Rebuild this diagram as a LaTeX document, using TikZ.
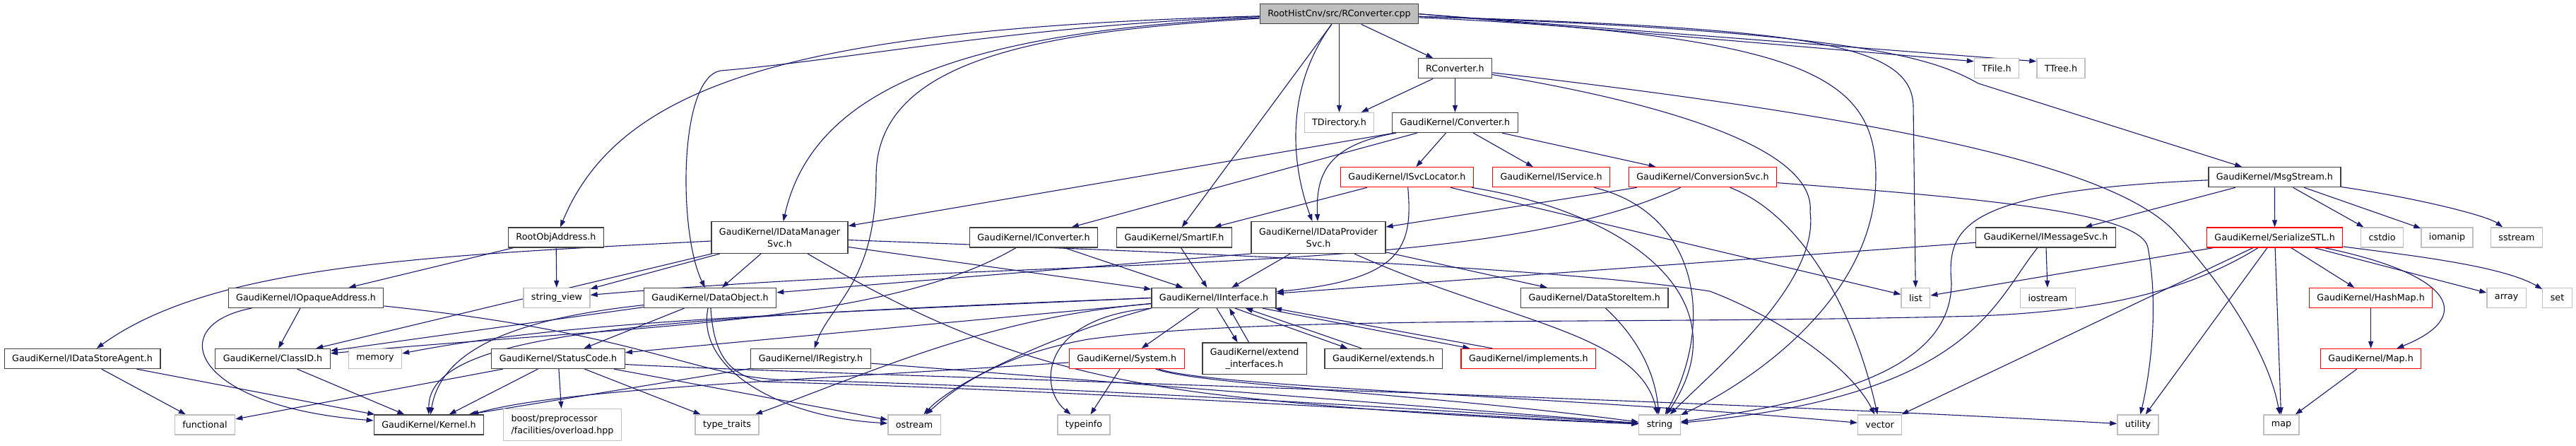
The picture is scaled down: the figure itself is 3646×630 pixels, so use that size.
\documentclass[tikz,border=0pt]{standalone}
\usepackage{fontspec}
\setmainfont{DejaVu Sans}
\usetikzlibrary{arrows.meta,backgrounds}
\definecolor{edgeblue}{HTML}{191970}
\definecolor{boxgray}{HTML}{BFBFBF}
\definecolor{boxline}{HTML}{404040}
\definecolor{boxred}{HTML}{FF0000}

\begin{document}
\begin{tikzpicture}[x=1pt,y=-1pt,
    hdr/.style={draw=boxline,line width=1.3pt,fill=white,minimum height=28pt,
      inner xsep=11pt,inner ysep=2pt,align=center,font=\fontsize{12.7}{17}\selectfont},
    sys/.style={hdr,draw=boxgray},
    cut/.style={hdr,draw=boxred},
    top/.style={hdr,fill=boxgray},
    dep/.style={draw=edgeblue,line width=1.1pt,-{Triangle[length=10pt,width=7pt]}}]
  \useasboundingbox (0,0) rectangle (3646,630);

  % row 0 - 2
  \node[top] (root) at (1895.5,19.7) {RootHistCnv/src/RConverter.cpp};
  \node[hdr] (rconv) at (2059.4,96.8) {RConverter.h};
  \node[sys] (tfile) at (2826,96.8) {TFile.h};
  \node[sys] (ttree) at (2917,96.8) {TTree.h};
  \node[sys] (tdir) at (1895.5,173.5) {TDirectory.h};
  \node[hdr] (conv) at (2059.4,173.5) {GaudiKernel/Converter.h};
  % row 3
  \node[cut] (isvcloc) at (1991.4,250.7) {GaudiKernel/ISvcLocator.h};
  \node[cut] (iservice) at (2195.6,250.7) {GaudiKernel/IService.h};
  \node[cut] (convsvc) at (2410,250.7) {GaudiKernel/ConversionSvc.h};
  \node[hdr] (msgstream) at (3219.4,250.7) {GaudiKernel/MsgStream.h};
  % row 4
  \node[hdr] (rootobj) at (787,336) {RootObjAddress.h};
  \node[hdr,minimum height=44.6pt] (idatamgr) at (1103.5,336) {GaudiKernel/IDataManager\\Svc.h};
  \node[hdr] (iconv) at (1463,336) {GaudiKernel/IConverter.h};
  \node[hdr] (smartif) at (1662,336) {GaudiKernel/SmartIF.h};
  \node[hdr,minimum height=44.6pt] (idataprov) at (1866,336) {GaudiKernel/IDataProvider\\Svc.h};
  \node[hdr] (imsgsvc) at (2895.5,336) {GaudiKernel/IMessageSvc.h};
  \node[cut] (serstl) at (3219.6,336) {GaudiKernel/SerializeSTL.h};
  \node[sys] (cstdio) at (3371.6,336) {cstdio};
  \node[sys] (iomanip) at (3463.5,336) {iomanip};
  \node[sys] (sstream) at (3562,336) {sstream};
  % row 5
  \node[hdr] (iopaque) at (433,421.5) {GaudiKernel/IOpaqueAddress.h};
  \node[sys] (strview) at (788,421.5) {string\_view};
  \node[hdr] (dataobj) at (1005,421.5) {GaudiKernel/DataObject.h};
  \node[hdr] (iiface) at (1718,421.5) {GaudiKernel/IInterface.h};
  \node[hdr] (dsitem) at (2256.7,421.5) {GaudiKernel/DataStoreItem.h};
  \node[sys] (list) at (2711.4,421.5) {list};
  \node[sys] (iostream) at (2898.4,421.5) {iostream};
  \node[cut] (hashmap) at (3355.6,421.5) {GaudiKernel/HashMap.h};
  \node[sys] (array) at (3547.6,421.5) {array};
  \node[sys] (set) at (3619.5,421.5) {set};
  % row 6
  \node[hdr] (idsa) at (116.6,507.5) {GaudiKernel/IDataStoreAgent.h};
  \node[hdr] (classid) at (386,507.5) {GaudiKernel/ClassID.h};
  \node[sys] (memory) at (531,507.5) {memory};
  \node[hdr] (statuscode) at (790,507.5) {GaudiKernel/StatusCode.h};
  \node[hdr] (ireg) at (1147.5,507.5) {GaudiKernel/IRegistry.h};
  \node[cut] (system) at (1594.7,507.5) {GaudiKernel/System.h};
  \node[hdr,minimum height=44.6pt] (extint) at (1775.6,507.3) {GaudiKernel/extend\\\_interfaces.h};
  \node[hdr] (extends) at (1958.2,507.5) {GaudiKernel/extends.h};
  \node[cut] (implements) at (2163.4,507.5) {GaudiKernel/implements.h};
  \node[cut] (mapfile) at (3355.6,507.5) {GaudiKernel/Map.h};
  % row 7
  \node[sys] (functional) at (290,601) {functional};
  \node[hdr] (kernel) at (607,601) {GaudiKernel/Kernel.h};
  \node[sys,align=left,minimum height=45pt] (boost) at (796,601) {boost/preprocessor\\/facilities/overload.hpp};
  \node[sys] (ttraits) at (1029,601) {type\_traits};
  \node[sys] (ostream) at (1294,601) {ostream};
  \node[sys] (typeinfo) at (1534,601) {typeinfo};
  \node[sys] (string) at (2349,601) {string};
  \node[sys] (vector) at (2660.6,601) {vector};
  \node[sys] (utility) at (3026,601) {utility};
  \node[sys] (map) at (3229,601) {map};

  \begin{scope}[on background layer]
  % RConverter.cpp
  \draw[dep] (root) .. controls (1150,40) and (880,110) .. (rootobj);
  \draw[dep] (root) .. controls (1350,45) and (1150,130) .. (idatamgr);
  \draw[dep] (root) .. controls (1450,35) and (1200,85) .. (1020,100)
    .. controls (960,110) and (960,330) .. (dataobj);
  \draw[dep] (root) .. controls (1450,45) and (1240,90) .. (1240,250)
    .. controls (1240,400) and (1175,430) .. (ireg);
  \draw[dep] (root) -- (smartif);
  \draw[dep] (root) .. controls (1815,130) and (1830,240) .. (idataprov);
  \draw[dep] (root) -- (tdir);
  \draw[dep] (root) -- (rconv);
  \draw[dep] (root.east) -- ([yshift=10pt]tfile.west);
  \draw[dep] (root.east) -- ([yshift=10pt]ttree.west);
  \draw[dep] (root) .. controls (2550,40) and (2706,60) .. (2708,150) -- (list);
  \draw[dep] (root) .. controls (2560,50) and (2655,110) .. (2655,250)
    .. controls (2655,420) and (2480,540) .. (string);
  \draw[dep] (root) .. controls (2650,45) and (2740,85) .. (2800,118) -- (msgstream);
  % RConverter.h
  \draw[dep] (rconv) -- (tdir);
  \draw[dep] (rconv) -- (conv);
  \draw[dep] (rconv) .. controls (2700,170) and (3000,240) .. (3080,330)
    .. controls (3170,430) and (3215,520) .. (map);
  \draw[dep] (rconv) .. controls (2380,150) and (2570,215) .. (2562,300)
    .. controls (2575,400) and (2430,520) .. (string);
  % Converter.h
  \draw[dep] (conv) -- (iconv);
  \draw[dep] (conv) -- (idatamgr);
  \draw[dep] (conv) .. controls (1880,205) and (1862,245) .. (idataprov);
  \draw[dep] (conv) -- (isvcloc);
  \draw[dep] (conv) -- (iservice);
  \draw[dep] (conv) -- (convsvc);
  % ISvcLocator.h, IService.h, ConversionSvc.h
  \draw[dep] (isvcloc) -- (smartif);
  \draw[dep] (isvcloc) .. controls (2000,350) and (1985,395) .. (iiface);
  \draw[dep] (isvcloc) .. controls (2300,300) and (2470,420) .. (string);
  \draw[dep] (isvcloc) -- (list);
  \draw[dep] (iservice) .. controls (2400,300) and (2430,450) .. (string);
  \draw[dep] (convsvc) -- (idataprov);
  \draw[dep] (convsvc) .. controls (2100,395) and (1500,360) .. (strview);
  \draw[dep] (convsvc) .. controls (2540,300) and (2620,420) .. (vector);
  \draw[dep] (convsvc) .. controls (2800,280) and (3030,300) .. (3040,350)
    .. controls (3055,430) and (3045,520) .. (utility);
  % MsgStream.h
  \draw[dep] (msgstream) -- (imsgsvc);
  \draw[dep] (msgstream) -- (serstl);
  \draw[dep] (msgstream) -- (cstdio);
  \draw[dep] (msgstream) -- (iomanip);
  \draw[dep] (msgstream) .. controls (3420,280) and (3520,305) .. (sstream);
  \draw[dep] (msgstream) .. controls (2780,270) and (2755,320) .. (2762,400)
    .. controls (2762,520) and (2600,565) .. (string);
  % RootObjAddress.h
  \draw[dep] (rootobj) -- (strview);
  \draw[dep] (rootobj) -- (iopaque);
  % IDataManagerSvc.h
  \draw[dep] (idatamgr) .. controls (600,362) and (300,375) .. (idsa);
  \draw[dep] (idatamgr) -- (classid);
  \draw[dep] (idatamgr) -- (strview);
  \draw[dep] (idatamgr) -- (dataobj);
  \draw[dep] (idatamgr) -- (iiface);
  \draw[dep] (idatamgr) .. controls (1300,450) and (1450,525) .. (1720,558)
    .. controls (1950,585) and (2200,595) .. (string);
  \draw[dep] (idatamgr) .. controls (1700,358) and (2200,378) .. (2420,412)
    .. controls (2520,450) and (2620,520) .. (vector);
  % IConverter.h, SmartIF.h
  \draw[dep] (iconv) .. controls (1250,460) and (900,460) .. (classid);
  \draw[dep] (iconv) -- (iiface);
  \draw[dep] (smartif) -- (iiface);
  % IDataProviderSvc.h
  \draw[dep] (idataprov) -- (iiface);
  \draw[dep] (idataprov.south west) -- (dataobj);
  \draw[dep] (idataprov) -- (dsitem);
  \draw[dep] (idataprov) .. controls (2130,455) and (2320,470) .. (string);
  % IDataStoreAgent.h, IOpaqueAddress.h, ClassID.h
  \draw[dep] (idsa) -- (functional);
  \draw[dep] (idsa) -- (kernel);
  \draw[dep] (iopaque) -- (classid);
  \draw[dep] (iopaque) .. controls (230,460) and (270,575) .. (kernel);
  \draw[dep] (iopaque) .. controls (900,470) and (980,530) .. (1100,537)
    .. controls (1600,550) and (2100,585) .. (string);
  \draw[dep] (classid) -- (kernel);
  % DataObject.h
  \draw[dep] (dataobj) -- (classid);
  \draw[dep] (dataobj) -- (statuscode);
  \draw[dep] (dataobj) .. controls (740,450) and (625,490) .. (kernel);
  \draw[dep] (dataobj) .. controls (985,520) and (1100,590) .. (ostream);
  \draw[dep] (dataobj) .. controls (1010,500) and (1030,530) .. (1080,540)
    .. controls (1600,555) and (2100,590) .. (string);
  % IInterface.h
  \draw[dep] (iiface) -- (system);
  \draw[dep] ([xshift=4pt]iiface.south) -- ([xshift=-24pt]extint.north);
  \draw[dep] ([xshift=-8pt]extint.north) -- ([xshift=22pt]iiface.south);
  \draw[dep] ([xshift=30pt]iiface.south) -- ([xshift=-51pt]extends.north);
  \draw[dep] ([xshift=-31pt]extends.north) -- ([xshift=45pt]iiface.south);
  \draw[dep] ([xshift=69pt]iiface.south) -- ([xshift=-83pt]implements.north);
  \draw[dep] ([xshift=-51pt]implements.north) -- ([xshift=86pt]iiface.south);
  \draw[dep] (iiface.south west) .. controls (1500,470) and (1350,540) .. (ostream);
  \draw[dep] (iiface.south west) .. controls (1470,450) and (1470,550) .. (typeinfo);
  \draw[dep] (iiface.west) .. controls (900,450) and (606,470) .. (kernel);
  \draw[dep] (iiface) -- (statuscode);
  \draw[dep] (iiface) .. controls (1400,450) and (1250,520) .. (ttraits);
  \draw[dep] (iiface.west) .. controls (1100,445) and (800,455) .. (memory);
  % StatusCode.h
  \draw[dep] (statuscode) -- (functional);
  \draw[dep] (statuscode) -- (kernel);
  \draw[dep] (statuscode) -- (boost);
  \draw[dep] (statuscode) -- (ttraits);
  \draw[dep] (statuscode) -- (ostream);
  \draw[dep] ([yshift=-8pt]statuscode.east) .. controls (1100,528) and (2300,560) .. (utility);
  % IRegistry.h, System.h, DataStoreItem.h
  \draw[dep] (ireg) -- ([xshift=-22pt]kernel.north east);
  \draw[dep] (ireg) -- (string);
  \draw[dep] (system) .. controls (1100,540) and (800,550) .. ([xshift=-18pt]kernel.north east);
  \draw[dep] (system) -- (typeinfo);
  \draw[dep] (system) .. controls (1700,545) and (2000,555) .. (string);
  \draw[dep] (system) .. controls (1720,548) and (2200,560) .. (vector);
  \draw[dep] (dsitem) .. controls (2320,480) and (2343,530) .. (string);
  % IMessageSvc.h
  \draw[dep] (imsgsvc) -- (iiface);
  \draw[dep] (imsgsvc) -- (iostream);
  \draw[dep] (imsgsvc) .. controls (2820,430) and (2790,560) .. (string);
  % SerializeSTL.h
  \draw[dep] (serstl) -- (list);
  \draw[dep] (serstl) .. controls (3100,410) and (2980,440) .. (2800,447)
    .. controls (2300,460) and (1800,445) .. (1540,480)
    .. controls (1400,505) and (1340,560) .. (ostream);
  \draw[dep] (serstl) -- (vector);
  \draw[dep] (serstl) -- (utility);
  \draw[dep] (serstl) -- (map);
  \draw[dep] (serstl) -- (hashmap);
  \draw[dep] (serstl) .. controls (3480,390) and (3500,450) .. (mapfile);
  \draw[dep] (serstl) -- (array);
  \draw[dep] (serstl) .. controls (3400,360) and (3540,375) .. (set);
  % HashMap.h, Map.h
  \draw[dep] (hashmap) -- (mapfile);
  \draw[dep] (mapfile) -- (map);
  \end{scope}
\end{tikzpicture}
\end{document}
